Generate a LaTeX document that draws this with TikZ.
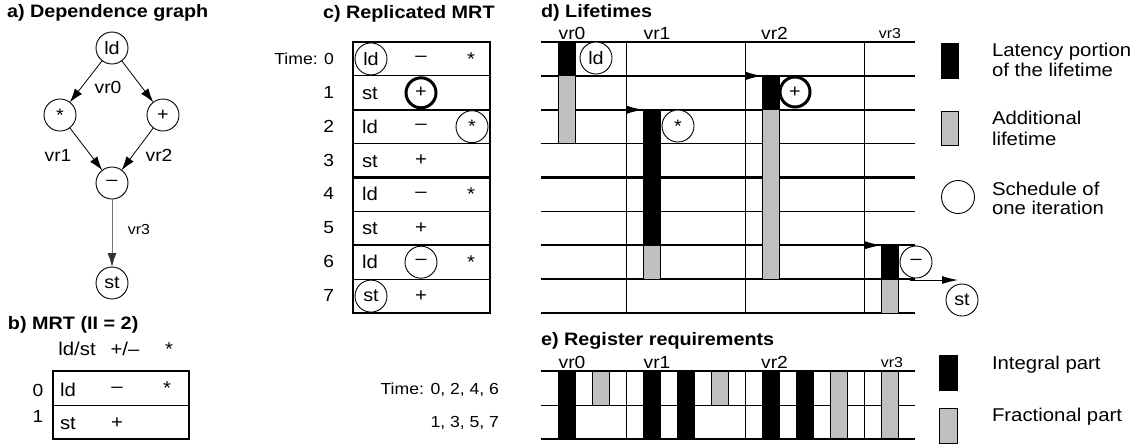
\documentclass[tikz,border=0pt]{standalone}
\usepackage{fontspec}
\setmainfont{Liberation Sans}[FakeStretch=1.1]
\usetikzlibrary{arrows.meta}
\definecolor{lgray}{RGB}{191,191,191}
\begin{document}
\begin{tikzpicture}[x=1pt,y=-1pt,
  every node/.style={inner sep=0pt,outer sep=0pt},
  ttl/.style={font=\fontsize{18}{20}\selectfont\bfseries,anchor=base west},
  lbl/.style={font=\fontsize{17.5}{19}\selectfont},
  slbl/.style={font=\fontsize{14.5}{16}\selectfont},
  tab/.style={font=\fontsize{18.5}{20}\selectfont},
  num/.style={font=\fontsize{17.5}{19}\selectfont},
  tim/.style={font=\fontsize{16}{18}\selectfont},
  leg/.style={font=\fontsize{18.5}{20}\selectfont,anchor=base west},
  opc/.style={circle,draw,line width=0.9pt,minimum size=32pt,fill=white,font=\fontsize{18}{20}\selectfont},
  opcb/.style={opc,line width=3pt,minimum size=30pt},
  arr/.style={line width=0.8pt,-{Latex[length=14pt,width=9pt]}},
  garr/.style={line width=1pt,draw=black!55,-{Latex[length=14pt,width=9pt,color=black!80]}},
  darr/.style={line width=1pt,-{Latex[length=16pt,width=8pt]}},
  thk/.style={line width=2.2pt},
  thn/.style={line width=1pt},
  blk/.style={fill=black,draw=black,line width=0.8pt},
  gry/.style={fill=lgray,draw=black,line width=0.8pt}
]
\useasboundingbox (0,0) rectangle (1134,445);

% ---------------- a) Dependence graph
\node[ttl] (ta) at (7,17) {a) Dependence graph};
\node[opc] (ald) at (112,48) {ld};
\node[opc] (amul) at (60,115) {*};
\node[opc] (aadd) at (163,115) {+};
\node[opc] (asub) at (112,183) {–};
\node[opc] (ast) at (112,283) {st};
\draw[arr] (ald) -- (amul);
\draw[arr] (ald) -- (aadd);
\draw[arr] (amul) -- (asub);
\draw[arr] (aadd) -- (asub);
\draw[garr] (asub) -- (ast);
\node[lbl] (lv0) at (108,87) {vr0};
\node[lbl] (lv1) at (58,155) {vr1};
\node[lbl] (lv2) at (159,155) {vr2};
\node[slbl] (lv3) at (139,230) {vr3};

% ---------------- b) MRT
\node[ttl] (tb) at (8,329) {b) MRT (II = 2)};
\node[tab,anchor=base] (hb1) at (77,355) {ld/st};
\node[tab,anchor=base] (hb2) at (125,355) {+/–};
\node[tab] (hb3) at (169,349) {*};
\draw[thk] (53,371) rectangle (189,439);
\draw[thn] (53,405) -- (189,405);
\node[num,anchor=base] (rb0) at (38,396) {0};
\node[num,anchor=base] (rb1) at (38,422) {1};
\node[tab,anchor=base west] (b00) at (60,396) {ld};
\node[tab] (b01) at (117,390) {–};
\node[tab] (b02) at (167,388) {*};
\node[tab,anchor=base west] (b10) at (60,429) {st};
\node[tab] (b11) at (117,423) {+};

% ---------------- c) Replicated MRT
\node[ttl] (tc) at (323,18) {c) Replicated MRT};
\foreach \i in {1,3,5,7} \draw[thn] (353,42+33.875*\i) -- (490,42+33.875*\i);
\foreach \i in {2,4,6} \draw[thk] (353,42+33.875*\i) -- (490,42+33.875*\i);
\draw[thk] (353,42) rectangle (490,313);
\node[tim,anchor=base east] (tc0) at (334,64) {Time: 0};
\foreach \i in {1,...,7} \node[num,anchor=base east] (tc\i) at (334,42+33.875*\i+16.9+5.5) {\i};
\node[opc] (c0a) at (371,58.9) {ld};
\node[tab] (c0b) at (421,58.9) {–};
\node[tab] (c0c) at (471,58.9) {*};
\node[tab,anchor=base west] (c1a) at (362,92.8+6.5) {st};
\node[opcb] (c1b) at (421,92.8) {+};
\node[tab,anchor=base west] (c2a) at (362,126.7+6.5) {ld};
\node[tab] (c2b) at (421,126.7) {–};
\node[opc] (c2c) at (472,126.7) {*};
\node[tab,anchor=base west] (c3a) at (362,160.6+6.5) {st};
\node[tab] (c3b) at (421,160.6) {+};
\node[tab,anchor=base west] (c4a) at (362,194.4+6.5) {ld};
\node[tab] (c4b) at (421,194.4) {–};
\node[tab] (c4c) at (471,194.4) {*};
\node[tab,anchor=base west] (c5a) at (362,228.3+6.5) {st};
\node[tab] (c5b) at (421,228.3) {+};
\node[tab,anchor=base west] (c6a) at (362,262.2+6.5) {ld};
\node[opc] (c6b) at (421,262.2) {–};
\node[tab] (c6c) at (471,262.2) {*};
\node[opc] (c7a) at (371,296.1) {st};
\node[tab] (c7b) at (421,296.1) {+};
\node[tim,anchor=base east] (te1) at (499,394) {Time: 0, 2, 4, 6};
\node[tim,anchor=base east] (te2) at (499,427) {1, 3, 5, 7};

% ---------------- d) Lifetimes
\node[ttl] (td) at (541,17) {d) Lifetimes};
\node[lbl,anchor=base] (dv0) at (572,39) {vr0};
\node[lbl,anchor=base] (dv1) at (657,39) {vr1};
\node[lbl,anchor=base] (dv2) at (774.5,39) {vr2};
\node[slbl,anchor=base] (dv3) at (890,38) {vr3};
\foreach \i in {0,2,4,6,8} \draw[thk] (541,42+33.875*\i) -- (915,42+33.875*\i);
\foreach \i in {1,7} \draw[line width=1.3pt] (541,42+33.875*\i) -- (915,42+33.875*\i);
\foreach \i in {3,5} \draw[thn] (541,42+33.875*\i) -- (915,42+33.875*\i);
\foreach \x in {626,745,864} \draw[thn] (\x,42) -- (\x,313);
\draw[blk] (558,42) rectangle (575,75.875);
\draw[gry] (558,75.875) rectangle (575,143.625);
\draw[blk] (643,109.75) rectangle (660,245.25);
\draw[gry] (643,245.25) rectangle (660,279.125);
\draw[blk] (762,75.875) rectangle (779,109.75);
\draw[gry] (762,109.75) rectangle (779,279.125);
\draw[blk] (881,245.25) rectangle (898,279.125);
\draw[gry] (881,279.125) rectangle (898,313);
\coordinate (p1s) at (740,75.875); \coordinate (p1e) at (762,75.875);
\coordinate (p2s) at (621,109.75); \coordinate (p2e) at (643,109.75);
\coordinate (p3s) at (859,245.25); \coordinate (p3e) at (881,245.25);
\draw[darr] (p1s) -- (p1e);
\draw[darr] (p2s) -- (p2e);
\draw[darr] (p3s) -- (p3e);
\node[opc] (dld) at (596,58) {ld};
\node[opc] (dmul) at (678,126) {*};
\node[opcb] (dadd) at (795,92) {+};
\node[opc] (dsub) at (916,262) {–};
\node[opc] (dst) at (962,300) {st};
\coordinate (q1) at (910,280);
\coordinate (q2) at (958,280);
\draw[darr] (q1) -- (q2);

% ---------------- e) Register requirements
\node[ttl] (te) at (541,345) {e) Register requirements};
\node[lbl,anchor=base] (ev0) at (572,368) {vr0};
\node[lbl,anchor=base] (ev1) at (657,368) {vr1};
\node[lbl,anchor=base] (ev2) at (774.5,368) {vr2};
\node[slbl,anchor=base] (ev3) at (892,367) {vr3};
\draw[thn] (541,405) -- (915,405);
\foreach \k in {1,...,21} \draw[thn] (541+17*\k,371) -- (541+17*\k,405);
\foreach \k in {1,2,5,6,7,8,9,12,13,14,15,16,17,18,19,20,21} \draw[thn] (541+17*\k,405) -- (541+17*\k,439);
\foreach \k in {1,6,8,13,15} \draw[blk] (541+17*\k,371) rectangle (558+17*\k,439);
\foreach \k in {3,10} \draw[gry] (541+17*\k,371) rectangle (558+17*\k,405);
\foreach \k in {17,20} \draw[gry] (541+17*\k,371) rectangle (558+17*\k,439);
\draw[thk] (541,371) -- (915,371);
\draw[thk] (541,439) -- (915,439);

% ---------------- legend
\draw[blk] (941,43) rectangle (958,78);
\node[leg] (g1a) at (992,56) {Latency portion};
\node[leg] (g1b) at (992,76) {of the lifetime};
\draw[gry] (941,111) rectangle (958,145);
\node[leg] (g2a) at (992,124) {Additional};
\node[leg] (g2b) at (992,145) {lifetime};
\node[circle,draw,line width=0.9pt,minimum size=33pt] (g3c) at (958,197) {};
\node[leg] (g3a) at (992,195) {Schedule of};
\node[leg] (g3b) at (992,214) {one iteration};
\draw[blk] (939,355) rectangle (957,390);
\node[leg] (g4) at (992,369) {Integral part};
\draw[gry] (939,408) rectangle (957,443);
\node[leg] (g5) at (992,421) {Fractional part};
\end{tikzpicture}
\end{document}
